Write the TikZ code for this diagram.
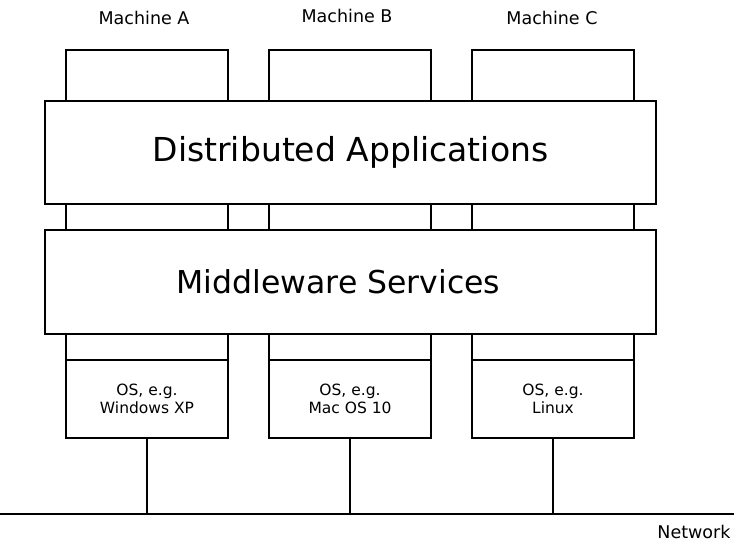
\documentclass[tikz,border=0pt]{standalone}
\usepackage{fontspec}
\setmainfont{DejaVu Sans}
\begin{document}
\begin{tikzpicture}[x=1pt,y=-1pt,
  box/.style={draw=black,line width=2pt,fill=white,inner sep=0pt,anchor=north west},
  wire/.style={draw=black,line width=1.4pt},
  machlabel/.style={font=\fontsize{17.5}{21}\selectfont,anchor=base},
  layerlabel/.style={font=\fontsize{33}{39}\selectfont},
  oslabel/.style={font=\fontsize{15.5}{18.5}\selectfont,align=center}]
\useasboundingbox (0,0) rectangle (738,543);
% machine columns (hidden partly by the layers drawn later)
\foreach \n/\x in {A/65,B/268,C/471}{
  \node[box,minimum width=162pt,minimum height=310pt] (col\n) at (\x,49) {};
}
% operating-system boxes
\node[box,minimum width=162pt,minimum height=78pt] (osA) at (65,359) {};
\node[box,minimum width=162pt,minimum height=78pt] (osB) at (268,359) {};
\node[box,minimum width=162pt,minimum height=78pt] (osC) at (471,359) {};
\node[oslabel] at (osA.center) {OS, e.g.\\Windows XP};
\node[oslabel] at (osB.center) {OS, e.g.\\Mac OS 10};
\node[oslabel] at (osC.center) {OS, e.g.\\Linux};
% shared layers
\node[box,minimum width=611pt,minimum height=103pt] (apps) at (44,100) {};
\node[layerlabel] at (apps.center) {Distributed Applications};
\node[box,minimum width=611pt,minimum height=104pt] (mw) at (44,229) {};
\node[layerlabel,font=\fontsize{31.5}{38}\selectfont] at ([xshift=-12pt]mw.center) {Middleware Services};
% machine labels
\node[machlabel] (labA) at (144,25) {Machine A};
\node[machlabel] (labB) at (347,23) {Machine B};
\node[machlabel] (labC) at (552,25) {Machine C};
% network
\coordinate (netL) at (0,514);
\coordinate (netR) at (734,514);
\draw[wire] (netL) -- (netR);
\node[font=\fontsize{17.5}{21}\selectfont,anchor=base east] (net) at (734,538) {Network};
\foreach \n in {A,B,C}{
  \draw[wire] (os\n.south) -- (os\n.south |- netL);
}
\end{tikzpicture}
\end{document}
